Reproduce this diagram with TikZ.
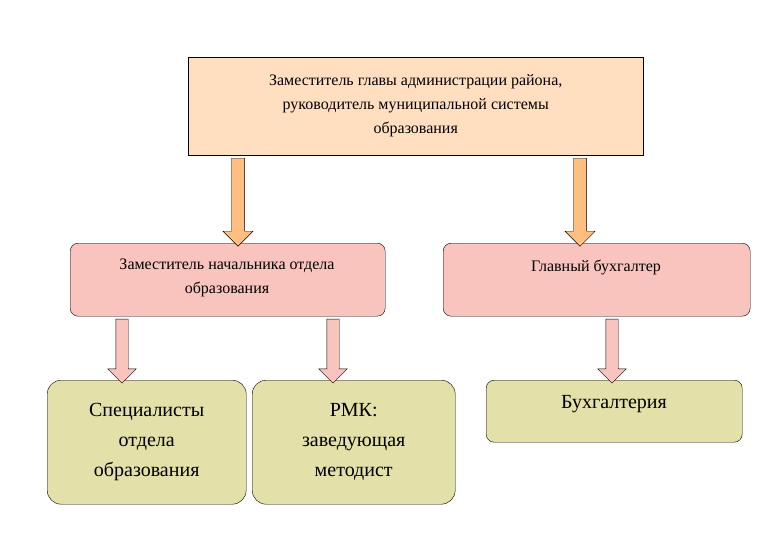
\documentclass[tikz,border=0pt]{standalone}
\usepackage{fontspec}
\setmainfont{Liberation Serif}
\usetikzlibrary{shapes.arrows}
\begin{document}
\begin{tikzpicture}[x=1pt,y=-1pt]
	\tikzset{box/.style={draw=black, thin, align=center, anchor=north west, inner sep=0pt},
		arr/.style={single arrow, draw=black, thin, shape border rotate=270, minimum width=30pt, single arrow head extend=8pt, single arrow tip angle=90, inner sep=0pt, text width=12pt}}
	\useasboundingbox (0,0) rectangle (771,541);

	\node[box, fill=orange!25!white, minimum width=455pt, minimum height=98pt, font=\fontsize{16}{24}\selectfont] (top) at (188,57) {Заместитель главы администрации района,\\руководитель муниципальной системы\\образования};

	\node[box, rounded corners=8pt, fill=red!20!white!90!brown, minimum width=315pt, minimum height=73pt] (zam) at (70,243) {};
	\node[align=center, font=\fontsize{16}{24}\selectfont] at (227,278) {Заместитель начальника отдела\\образования};
	\node[box, rounded corners=8pt, fill=red!20!white!90!brown, minimum width=307pt, minimum height=73pt] (buh) at (443,243) {};
	\node[font=\fontsize{16}{24}\selectfont] at (596,267) {Главный бухгалтер};

	\node[box, rounded corners=14pt, fill=olive!25!white, minimum width=199pt, minimum height=124pt, font=\fontsize{20}{30}\selectfont] (spec) at (47,380) {Специалисты\\отдела\\образования};
	\node[box, rounded corners=14pt, fill=olive!25!white, minimum width=203pt, minimum height=124pt, font=\fontsize{20}{30}\selectfont] (rmk) at (252,380) {РМК:\\заведующая\\методист};
	\node[box, rounded corners=8pt, fill=olive!25!white, minimum width=256pt, minimum height=62pt] (bux) at (486,380) {};
	\node[font=\fontsize{20}{30}\selectfont] at (614,404) {Бухгалтерия};

	% arrows
	\node[arr, fill=orange!50!white, minimum height=88pt] (a1) at (238,199) {};
	\node[arr, fill=orange!50!white, minimum height=88pt] (a2) at (580,199) {};
	\node[arr, fill=red!20!white!90!brown, minimum height=64pt, minimum width=24pt] (a3) at (122,348) {};
	\node[arr, fill=red!20!white!90!brown, minimum height=64pt, minimum width=24pt] (a4) at (333,348) {};
	\node[arr, fill=red!20!white!90!brown, minimum height=64pt, minimum width=24pt] (a5) at (612,348) {};
\end{tikzpicture}
\end{document}
